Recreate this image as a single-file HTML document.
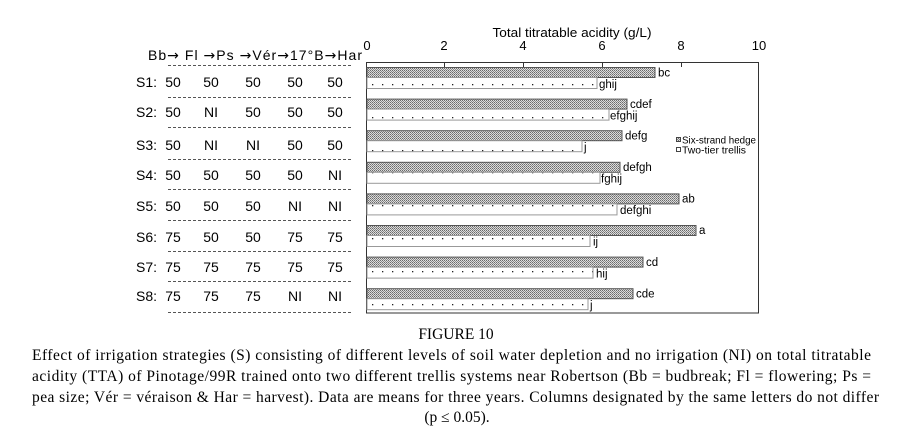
<!DOCTYPE html>
<html>
<head>
<meta charset="utf-8">
<style>
  html, body { margin: 0; padding: 0; background: #ffffff; }
  svg { display: block; }
  .sans { font-family: "Liberation Sans", Arial, sans-serif; }
  .serif { font-family: "Liberation Serif", "Times New Roman", serif; }
  .arr { font-family: "DejaVu Sans", sans-serif; }
</style>
</head>
<body>
<svg width="903" height="443" viewBox="0 0 903 443" xmlns="http://www.w3.org/2000/svg">
  <defs>
    <pattern id="hatch" width="2" height="2" patternUnits="userSpaceOnUse">
      <rect width="2" height="2" fill="#dcdcdc"/>
      <rect x="0" y="0" width="1" height="1" fill="#6a6a6a"/>
      <rect x="1" y="1" width="1" height="1" fill="#8a8a8a"/>
    </pattern>
    <pattern id="dots" width="10" height="11" patternUnits="userSpaceOnUse" x="368" y="0">
      <rect width="10" height="11" fill="#ffffff"/>
      <rect x="4" y="7" width="1.3" height="1.3" fill="#222"/>
    </pattern>
  </defs>

  <rect width="903" height="443" fill="#ffffff"/>

  <!-- Axis title and tick labels -->
  <g class="sans" fill="#000" font-size="13">
    <text x="572" y="37" text-anchor="middle" textLength="159" lengthAdjust="spacingAndGlyphs">Total titratable acidity (g/L)</text>
    <text x="367" y="50" text-anchor="middle">0</text>
    <text x="444" y="50" text-anchor="middle">2</text>
    <text x="523" y="50" text-anchor="middle">4</text>
    <text x="602" y="50" text-anchor="middle">6</text>
    <text x="681" y="50" text-anchor="middle">8</text>
    <text x="759" y="50" text-anchor="middle">10</text>
  </g>

  <!-- Plot box -->
  <rect x="366.5" y="62.5" width="392" height="250.5" fill="none" stroke="#333" stroke-width="1"/>
  <g stroke="#333" stroke-width="1">
    <line x1="444.5" y1="62" x2="444.5" y2="67"/>
    <line x1="523.5" y1="62" x2="523.5" y2="67"/>
    <line x1="602.5" y1="62" x2="602.5" y2="67"/>
    <line x1="681.5" y1="62" x2="681.5" y2="67"/>
  </g>

  <!-- Bars -->
  <g>
    <rect x="367" y="67.5" width="288" height="10" fill="url(#hatch)" stroke="#555" stroke-width="1"/>
    <rect x="367" y="77.5" width="230" height="11" fill="url(#dots)" stroke="#999" stroke-width="1"/>
    <rect x="367" y="99.1" width="260" height="10" fill="url(#hatch)" stroke="#555" stroke-width="1"/>
    <rect x="367" y="109.1" width="242" height="11" fill="url(#dots)" stroke="#999" stroke-width="1"/>
    <rect x="367" y="130.7" width="255" height="10" fill="url(#hatch)" stroke="#555" stroke-width="1"/>
    <rect x="367" y="140.7" width="215" height="11" fill="url(#dots)" stroke="#999" stroke-width="1"/>
    <rect x="367" y="162.3" width="253" height="10" fill="url(#hatch)" stroke="#555" stroke-width="1"/>
    <rect x="367" y="172.3" width="233" height="11" fill="url(#dots)" stroke="#999" stroke-width="1"/>
    <rect x="367" y="193.9" width="312" height="10" fill="url(#hatch)" stroke="#555" stroke-width="1"/>
    <rect x="367" y="203.9" width="250" height="11" fill="url(#dots)" stroke="#999" stroke-width="1"/>
    <rect x="367" y="225.5" width="329" height="10" fill="url(#hatch)" stroke="#555" stroke-width="1"/>
    <rect x="367" y="235.5" width="223" height="11" fill="url(#dots)" stroke="#999" stroke-width="1"/>
    <rect x="367" y="257.1" width="276" height="10" fill="url(#hatch)" stroke="#555" stroke-width="1"/>
    <rect x="367" y="267.1" width="226" height="11" fill="url(#dots)" stroke="#999" stroke-width="1"/>
    <rect x="367" y="288.7" width="266" height="10" fill="url(#hatch)" stroke="#555" stroke-width="1"/>
    <rect x="367" y="298.7" width="221" height="11" fill="url(#dots)" stroke="#999" stroke-width="1"/>
  </g>

  <!-- Bar labels -->
  <g class="sans" fill="#000" font-size="11.5">
    <text x="658" y="76.5">bc</text>
    <text x="599" y="88">ghij</text>
    <text x="630" y="108">cdef</text>
    <text x="610" y="119.5">efghij</text>
    <text x="625" y="139.5">defg</text>
    <text x="584" y="151">j</text>
    <text x="623" y="171">defgh</text>
    <text x="601" y="182.5">fghij</text>
    <text x="682" y="202.5">ab</text>
    <text x="620" y="214">defghi</text>
    <text x="699" y="234">a</text>
    <text x="593" y="245.5">ij</text>
    <text x="646" y="266">cd</text>
    <text x="596" y="277.5">hij</text>
    <text x="636" y="297.5">cde</text>
    <text x="590" y="309">j</text>
  </g>

  <!-- Legend -->
  <rect x="676.5" y="137.5" width="4" height="4" fill="url(#hatch)" stroke="#444" stroke-width="1"/>
  <rect x="676.5" y="147.5" width="4" height="4" fill="#fff" stroke="#444" stroke-width="1"/>
  <g class="sans" fill="#000" font-size="10">
    <text x="682" y="143.5" textLength="74" lengthAdjust="spacingAndGlyphs">Six-strand hedge</text>
    <text x="682" y="153.5" textLength="64" lengthAdjust="spacingAndGlyphs">Two-tier trellis</text>
  </g>

  <!-- Left table header -->
  <g class="sans" fill="#000" font-size="14">
    <text x="148" y="60" textLength="214" lengthAdjust="spacing">Bb<tspan class="arr">→</tspan> Fl <tspan class="arr">→</tspan>Ps <tspan class="arr">→</tspan>Vér<tspan class="arr">→</tspan>17°B<tspan class="arr">→</tspan>Har</text>
  </g>
  <g stroke="#555" stroke-width="1" stroke-dasharray="3,2">
    <line x1="168" y1="65.5" x2="353" y2="65.5"/>
    <line x1="168" y1="97.5" x2="353" y2="97.5"/>
    <line x1="168" y1="127.5" x2="353" y2="127.5"/>
    <line x1="168" y1="159.5" x2="353" y2="159.5"/>
    <line x1="168" y1="189.5" x2="353" y2="189.5"/>
    <line x1="168" y1="220.5" x2="353" y2="220.5"/>
    <line x1="168" y1="251.5" x2="353" y2="251.5"/>
    <line x1="168" y1="281.5" x2="353" y2="281.5"/>
    <line x1="168" y1="312.5" x2="353" y2="312.5"/>
  </g>
  <!-- Row labels -->
  <g class="sans" fill="#000" font-size="14">
    <text x="136" y="87">S1:</text>
    <text x="136" y="117">S2:</text>
    <text x="136" y="150">S3:</text>
    <text x="136" y="180">S4:</text>
    <text x="136" y="211">S5:</text>
    <text x="136" y="242">S6:</text>
    <text x="136" y="272">S7:</text>
    <text x="136" y="301">S8:</text>
  </g>
  <g class="sans" fill="#000" font-size="14" text-anchor="middle">
    <text x="173" y="87">50</text><text x="211" y="87">50</text><text x="253" y="87">50</text><text x="295" y="87">50</text><text x="335" y="87">50</text>
    <text x="173" y="117">50</text><text x="211" y="117">NI</text><text x="253" y="117">50</text><text x="295" y="117">50</text><text x="335" y="117">50</text>
    <text x="173" y="150">50</text><text x="211" y="150">NI</text><text x="253" y="150">NI</text><text x="295" y="150">50</text><text x="335" y="150">50</text>
    <text x="173" y="180">50</text><text x="211" y="180">50</text><text x="253" y="180">50</text><text x="295" y="180">50</text><text x="335" y="180">NI</text>
    <text x="173" y="211">50</text><text x="211" y="211">50</text><text x="253" y="211">50</text><text x="295" y="211">NI</text><text x="335" y="211">NI</text>
    <text x="173" y="242">75</text><text x="211" y="242">50</text><text x="253" y="242">50</text><text x="295" y="242">75</text><text x="335" y="242">75</text>
    <text x="173" y="272">75</text><text x="211" y="272">75</text><text x="253" y="272">75</text><text x="295" y="272">75</text><text x="335" y="272">75</text>
    <text x="173" y="301">75</text><text x="211" y="301">75</text><text x="253" y="301">75</text><text x="295" y="301">NI</text><text x="335" y="301">NI</text>
  </g>

  <!-- Caption -->
  <g class="serif" fill="#000" font-size="15.5">
    <text x="456" y="339" text-anchor="middle">FIGURE 10</text>
    <text x="32" y="360" textLength="839" lengthAdjust="spacing">Effect of irrigation strategies (S) consisting of different levels of soil water depletion and no irrigation (NI) on total titratable</text>
    <text x="32" y="381" textLength="839" lengthAdjust="spacing">acidity (TTA) of Pinotage/99R trained onto two different trellis systems near Robertson (Bb = budbreak; Fl = flowering; Ps =</text>
    <text x="32" y="402" textLength="847" lengthAdjust="spacing">pea size; Vér = véraison &amp; Har = harvest). Data are means for three years. Columns designated by the same letters do not differ</text>
    <text x="457" y="422" text-anchor="middle">(p ≤ 0.05).</text>
  </g>
</svg>
</body>
</html>
